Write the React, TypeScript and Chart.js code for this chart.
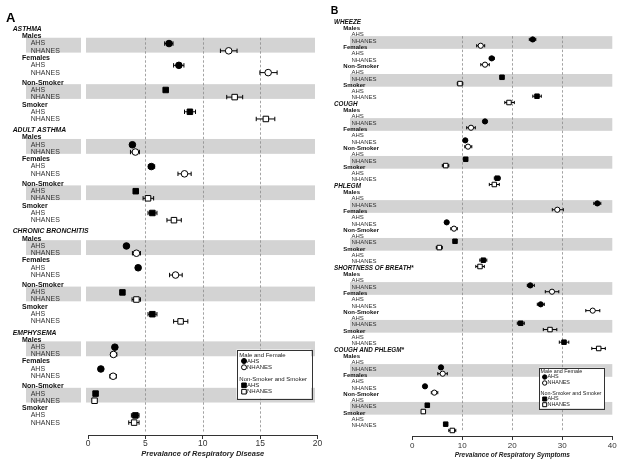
import React, { useEffect, useRef } from 'react';
import { Chart, registerables } from 'chart.js';

Chart.register(...registerables);

const FONT = "'Liberation Sans', Arial, Helvetica, sans-serif";

// ---------------- data ----------------
const DISEASES = ['ASTHMA', 'ADULT ASTHMA', 'CHRONIC BRONCHITIS', 'EMPHYSEMA'];
const SYMPTOMS = ['WHEEZE', 'COUGH', 'PHLEGM', 'SHORTNESS OF BREATH*', 'COUGH AND PHLEGM*'];
const GROUPS = ['Males', 'Females', 'Non-Smoker', 'Smoker'];
const SOURCES = ['AHS', 'NHANES'];
const LEGEND_HEAD_SEX = 'Male and Female';
const LEGEND_HEAD_SMOKE = 'Non-Smoker and Smoker';
const AXIS_TITLE_A = 'Prevalance of Respiratory Disease';
const AXIS_TITLE_B = 'Prevalance of Respiratory Symptoms';
const X_RANGE_A = [0, 20];
const X_STEP_A = 5;
const X_RANGE_B = [0, 40];
const X_STEP_B = 10;

// Panel A, order: disease x (Males, Females, Non-Smoker, Smoker)
const A_AHS = [7.06, 7.92, 6.77, 8.88, 3.87, 5.52, 4.16, 5.61, 3.35, 4.37, 3.0, 5.61, 2.34, 1.12, 0.66, 4.13];
const A_AHS_LO = [6.68, 7.46, 6.6, 8.41, 3.75, 5.26, 4.0, 5.23, 3.2, 4.2, 2.9, 5.23, 2.2, 1.05, 0.6, 3.78];
const A_AHS_HI = [7.41, 8.36, 6.95, 9.37, 4.0, 5.81, 4.3, 6.01, 3.5, 4.5, 3.1, 6.01, 2.5, 1.2, 0.72, 4.45];
const A_NHANES = [12.26, 15.7, 12.78, 15.5, 4.13, 8.41, 5.23, 7.49, 4.22, 7.63, 4.22, 8.07, 2.22, 2.19, 0.57, 4.02];
const A_NHANES_LO = [11.54, 14.98, 12.09, 14.66, 3.7, 7.84, 4.8, 6.88, 3.87, 7.11, 3.84, 7.46, 1.96, 1.9, 0.5, 3.55];
const A_NHANES_HI = [12.99, 16.48, 13.48, 16.28, 4.48, 8.99, 5.72, 8.13, 4.57, 8.21, 4.57, 8.7, 2.51, 2.48, 0.64, 4.45];

// Panel B, order: symptom x (Males, Females, Non-Smoker, Smoker)
const B_AHS = [24.08, 15.88, 17.94, 24.94, 14.54, 10.6, 10.68, 17.0, 37.0, 6.88, 8.54, 14.2, 23.6, 25.68, 21.68, 30.34, 5.74, 2.54, 3.0, 6.68];
const B_AHS_LO = [23.4, 15.4, 17.6, 24.1, 14.2, 10.3, 10.4, 16.4, 36.3, 6.6, 8.25, 13.5, 23.0, 25.0, 21.0, 29.4, 5.45, 2.3, 2.7, 6.4];
const B_AHS_HI = [24.7, 16.4, 18.3, 25.8, 14.9, 10.9, 10.95, 17.6, 37.7, 7.2, 8.85, 14.9, 24.4, 26.4, 22.4, 31.3, 6.05, 2.8, 3.3, 7.0];
const B_NHANES = [13.68, 14.54, 9.54, 19.34, 11.74, 11.14, 6.68, 16.4, 29.0, 8.34, 5.4, 13.54, 27.94, 36.08, 27.54, 37.28, 6.08, 4.4, 2.2, 8.0];
const B_NHANES_LO = [12.88, 13.7, 9.0, 18.5, 10.88, 10.5, 6.0, 15.4, 28.0, 7.7, 4.8, 12.7, 26.6, 34.7, 26.2, 35.9, 5.1, 3.8, 1.9, 7.3];
const B_NHANES_HI = [14.48, 15.4, 10.1, 20.4, 12.6, 11.9, 7.3, 17.4, 30.2, 9.0, 6.0, 14.4, 29.3, 37.5, 28.9, 38.6, 7.0, 5.1, 2.5, 8.7];

// ---------------- layout / style ----------------
const BAND_COLOR = '#d3d3d3';

const LAYOUT_A = {
  letter: 'A', letterX: 6, letterY: 22, letterFont: `bold 13px ${FONT}`,
  left: 0, width: 330, height: 464,
  chartLeft: 88, chartRight: 317.5, axisHeight: 29,
  rowPx: 7.35, firstRowPx: 24.3, period: 13.93,
  offsets: [0, 1, 2, 3, 3.95, 5, 6, 7.4, 8.39, 9.37, 10.43, 11.39, 12.38],
  dotShift: 0,
  labelX: [12.7, 22, 30.7],
  titleFont: `italic bold 6.8px ${FONT}`, groupFont: `bold 7px ${FONT}`, sourceFont: `7px ${FONT}`,
  bandTop: -5.8, bandBottom: 1.8,
  bandXs: [[26, 81], [86, 315]],
  gridGap: 3.5,
  circleR: 3.3, rectR: 3.9, cap: 2.2,
  tickFont: 8.5, tickLength: 4, tickPadding: 0, axisTitleFont: 7.5, axisTitlePad: 5.5,
  legend: { x: 236.5, y: 349.5, w: 74.5, h: 49, font: 6, rows: [5.5, 11.5, 17.8, 29.5, 35.8, 42.2], headX: 2.8, markX: 7.5, textX: 10.5, cr: 2.5, sq: 4.6 },
};

const LAYOUT_B = {
  letter: 'B', letterX: 8.7, letterY: 13.6, letterFont: `bold 10.5px ${FONT}`,
  left: 322, width: 300, height: 464,
  chartLeft: 90.3, chartRight: 290.3, axisHeight: 28,
  rowPx: 6.38, firstRowPx: 17.3, period: 13,
  offsets: [0, 1, 2, 3, 4, 5, 6, 7, 8, 9, 10, 11, 12],
  dotShift: 0.75,
  labelX: [12, 21.3, 29.5],
  titleFont: `italic bold 6.3px ${FONT}`, groupFont: `bold 6px ${FONT}`, sourceFont: `6px ${FONT}`,
  bandTop: -3.3, bandBottom: 3.1,
  bandXs: [[28, 290.3]],
  gridGap: 4.5,
  circleR: 2.6, rectR: 3.2, cap: 1.6,
  tickFont: 8, tickLength: 4, tickPadding: 1, axisTitleFont: 6.5, axisTitlePad: 5.1,
  legend: { x: 217.3, y: 367.7, w: 65, h: 40.6, font: 5.4, rows: [3.5, 9.3, 15.3, 26, 31.3, 37], headX: 1.3, markX: 5.4, textX: 8.2, cr: 2.2, sq: 4 },
};

type L = typeof LAYOUT_A;

function rowValue(lay: L, d: number, idx: number) {
  return d * lay.period + lay.offsets[idx];
}

function buildPoints(lay: L, vals: number[], lo: number[], hi: number[], groups: number[], src: number) {
  const pts: any[] = [];
  const n = vals.length / GROUPS.length;
  for (let d = 0; d < n; d++) {
    for (const g of groups) {
      const i = d * GROUPS.length + g;
      pts.push({ x: vals[i], y: rowValue(lay, d, 2 + 3 * g + src) + lay.dotShift, lo: lo[i], hi: hi[i] });
    }
  }
  return pts;
}

function drawMarker(ctx: CanvasRenderingContext2D, x: number, y: number, shape: string, filled: boolean, r: number, sq: number) {
  ctx.beginPath();
  if (shape === 'circle') ctx.arc(x, y, r, 0, Math.PI * 2);
  else ctx.rect(x - sq / 2, y - sq / 2, sq, sq);
  ctx.fillStyle = filled ? '#000' : '#fff';
  ctx.fill();
  ctx.lineWidth = 1;
  ctx.strokeStyle = '#000';
  ctx.stroke();
}

function makeDecor(lay: L, cats: string[]) {
  return {
    id: 'decor' + lay.letter,
    beforeDatasetsDraw(chart: any) {
      const ctx: CanvasRenderingContext2D = chart.ctx;
      const ys = chart.scales.y;
      const xs = chart.scales.x;
      const ca = chart.chartArea;
      ctx.save();
      // bands
      let firstTop = Infinity;
      cats.forEach((_, d) => {
        [0, 2].forEach((g) => {
          const yA = ys.getPixelForValue(rowValue(lay, d, 2 + 3 * g) + lay.dotShift);
          const yN = ys.getPixelForValue(rowValue(lay, d, 3 + 3 * g) + lay.dotShift);
          const top = yA + lay.bandTop;
          const bot = yN + lay.bandBottom;
          firstTop = Math.min(firstTop, top);
          ctx.fillStyle = BAND_COLOR;
          lay.bandXs.forEach(([x0, x1]) => ctx.fillRect(x0, top, x1 - x0, bot - top));
        });
      });
      // dashed grid lines
      ctx.strokeStyle = '#8c8c8c';
      ctx.lineWidth = 0.8;
      ctx.setLineDash([2.5, 2]);
      xs.ticks.forEach((t: any) => {
        if (t.value <= xs.min || t.value >= xs.max) return;
        const x = Math.round(xs.getPixelForValue(t.value)) + 0.5;
        ctx.beginPath();
        ctx.moveTo(x, firstTop);
        ctx.lineTo(x, ca.bottom - lay.gridGap);
        ctx.stroke();
      });
      ctx.setLineDash([]);
      // error bars
      ctx.strokeStyle = '#000';
      ctx.lineWidth = 1;
      chart.data.datasets.forEach((ds: any, di: number) => {
        const meta = chart.getDatasetMeta(di);
        ds.data.forEach((p: any, i: number) => {
          const y = meta.data[i].y;
          const x0 = xs.getPixelForValue(p.lo);
          const x1 = xs.getPixelForValue(p.hi);
          ctx.beginPath();
          ctx.moveTo(x0, y);
          ctx.lineTo(x1, y);
          ctx.moveTo(x0, y - lay.cap);
          ctx.lineTo(x0, y + lay.cap);
          ctx.moveTo(x1, y - lay.cap);
          ctx.lineTo(x1, y + lay.cap);
          ctx.stroke();
        });
      });
      // row labels
      ctx.textBaseline = 'middle';
      ctx.textAlign = 'left';
      cats.forEach((name, d) => {
        ctx.fillStyle = '#111';
        ctx.font = lay.titleFont;
        ctx.fillText(name, lay.labelX[0], ys.getPixelForValue(rowValue(lay, d, 0)));
        GROUPS.forEach((g, gi) => {
          ctx.fillStyle = '#111';
          ctx.font = lay.groupFont;
          ctx.fillText(g, lay.labelX[1], ys.getPixelForValue(rowValue(lay, d, 1 + 3 * gi)));
          SOURCES.forEach((s, si) => {
            ctx.fillStyle = '#333';
            ctx.font = lay.sourceFont;
            ctx.fillText(s, lay.labelX[2], ys.getPixelForValue(rowValue(lay, d, 2 + 3 * gi + si)));
          });
        });
      });
      // panel letter
      ctx.textBaseline = 'alphabetic';
      ctx.fillStyle = '#000';
      ctx.font = lay.letterFont;
      ctx.fillText(lay.letter, lay.letterX, lay.letterY);
      ctx.restore();
    },
    afterDatasetsDraw(chart: any) {
      const ctx: CanvasRenderingContext2D = chart.ctx;
      const lg = lay.legend;
      ctx.save();
      ctx.fillStyle = '#fff';
      ctx.fillRect(lg.x, lg.y, lg.w, lg.h);
      ctx.strokeStyle = '#333';
      ctx.lineWidth = 1;
      ctx.strokeRect(Math.round(lg.x) + 0.5, Math.round(lg.y) + 0.5, Math.round(lg.w), Math.round(lg.h));
      ctx.textBaseline = 'middle';
      ctx.textAlign = 'left';
      ctx.font = `${lg.font}px ${FONT}`;
      ctx.fillStyle = '#222';
      ctx.fillText(LEGEND_HEAD_SEX, lg.x + lg.headX, lg.y + lg.rows[0]);
      ctx.fillText(LEGEND_HEAD_SMOKE, lg.x + lg.headX, lg.y + lg.rows[3]);
      const items = [
        { row: 1, shape: 'circle', filled: true, text: SOURCES[0] },
        { row: 2, shape: 'circle', filled: false, text: SOURCES[1] },
        { row: 4, shape: 'rect', filled: true, text: SOURCES[0] },
        { row: 5, shape: 'rect', filled: false, text: SOURCES[1] },
      ];
      items.forEach((it) => {
        const y = lg.y + lg.rows[it.row];
        drawMarker(ctx, lg.x + lg.markX, y, it.shape, it.filled, lg.cr, lg.sq);
        ctx.fillStyle = '#222';
        ctx.font = `${lg.font}px ${FONT}`;
        ctx.fillText(it.text, lg.x + lg.textX, y);
      });
      ctx.restore();
    },
  };
}

function makeConfig(lay: L, cats: string[], range: number[], step: number, title: string,
  ahs: number[], ahsLo: number[], ahsHi: number[], nh: number[], nhLo: number[], nhHi: number[]): any {
  const axisY = lay.height - lay.axisHeight;
  const yMin = -lay.firstRowPx / lay.rowPx;
  const yMax = yMin + axisY / lay.rowPx;
  const mk = (label: string, data: any[], shape: string, filled: boolean) => ({
    label,
    data,
    pointStyle: shape,
    pointRadius: shape === 'circle' ? lay.circleR : lay.rectR,
    pointBorderWidth: 1,
    pointBackgroundColor: filled ? '#000' : '#fff',
    pointBorderColor: '#000',
    backgroundColor: filled ? '#000' : '#fff',
    borderColor: '#000',
    showLine: false,
  });
  return {
    type: 'scatter',
    data: {
      datasets: [
        mk('AHS (sex)', buildPoints(lay, ahs, ahsLo, ahsHi, [0, 1], 0), 'circle', true),
        mk('NHANES (sex)', buildPoints(lay, nh, nhLo, nhHi, [0, 1], 1), 'circle', false),
        mk('AHS (smoking)', buildPoints(lay, ahs, ahsLo, ahsHi, [2, 3], 0), 'rect', true),
        mk('NHANES (smoking)', buildPoints(lay, nh, nhLo, nhHi, [2, 3], 1), 'rect', false),
      ],
    },
    options: {
      animation: false,
      responsive: false,
      events: [],
      layout: { padding: { left: lay.chartLeft, right: lay.width - lay.chartRight, top: 0, bottom: 0 } },
      plugins: { legend: { display: false }, tooltip: { enabled: false } },
      scales: {
        x: {
          type: 'linear',
          position: 'bottom',
          min: range[0],
          max: range[1],
          ticks: { stepSize: step, color: '#333', padding: lay.tickPadding, maxRotation: 0, autoSkip: false, font: { family: FONT, size: lay.tickFont } },
          grid: { display: true, drawOnChartArea: false, drawTicks: true, tickLength: lay.tickLength, color: '#333', lineWidth: 1 },
          border: { display: true, color: '#333', width: 1 },
          title: { display: true, text: title, color: '#222', padding: { top: 0, bottom: lay.axisTitlePad }, font: { family: FONT, size: lay.axisTitleFont, style: 'italic', weight: 'bold' } },
          afterFit: (s: any) => { s.height = lay.axisHeight; },
        },
        y: { type: 'linear', reverse: true, min: yMin, max: yMax, display: false },
      },
    },
    plugins: [makeDecor(lay, cats)],
  };
}

function Panel(props: { lay: L; cfg: () => any }) {
  const ref = useRef<HTMLCanvasElement | null>(null);
  useEffect(() => {
    if (!ref.current) return;
    const chart = new Chart(ref.current, props.cfg());
    return () => chart.destroy();
  }, []);
  const { lay } = props;
  return (
    <canvas
      ref={ref}
      width={lay.width}
      height={lay.height}
      style={{ position: 'absolute', left: lay.left, top: 0, width: lay.width, height: lay.height }}
    />
  );
}

export default function App() {
  return (
    <div style={{ position: 'absolute', left: 0, top: 0, width: 622, height: 464, background: '#fff', overflow: 'hidden' }}>
      <Panel lay={LAYOUT_A} cfg={() => makeConfig(LAYOUT_A, DISEASES, X_RANGE_A, X_STEP_A, AXIS_TITLE_A, A_AHS, A_AHS_LO, A_AHS_HI, A_NHANES, A_NHANES_LO, A_NHANES_HI)} />
      <Panel lay={LAYOUT_B as any} cfg={() => makeConfig(LAYOUT_B as any, SYMPTOMS, X_RANGE_B, X_STEP_B, AXIS_TITLE_B, B_AHS, B_AHS_LO, B_AHS_HI, B_NHANES, B_NHANES_LO, B_NHANES_HI)} />
    </div>
  );
}
